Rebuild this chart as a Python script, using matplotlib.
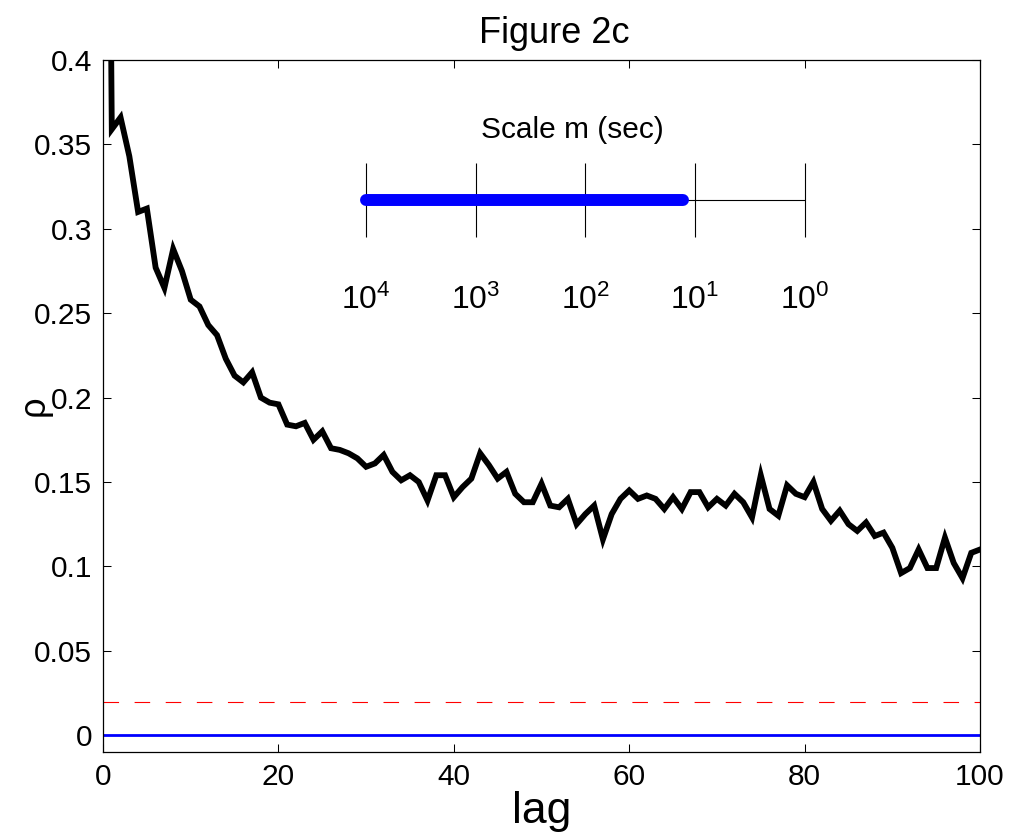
import numpy as np
import matplotlib.pyplot as plt

plt.rcParams['font.family'] = ['Liberation Sans', 'DejaVu Sans']
plt.rcParams['mathtext.fontset'] = 'custom'
plt.rcParams['mathtext.rm'] = 'Liberation Sans'
plt.rcParams['mathtext.it'] = 'Liberation Sans:italic'

# autocorrelacion vs lag
lags = np.arange(0, 101)
rho = [1.0, 0.359, 0.366, 0.343, 0.310, 0.312, 0.277, 0.265, 0.288, 0.275,
       0.258, 0.254, 0.243, 0.237, 0.223, 0.213, 0.209, 0.215, 0.200, 0.197,
       0.196, 0.184, 0.183, 0.185, 0.175, 0.180, 0.170, 0.169, 0.167, 0.164,
       0.159, 0.161, 0.166, 0.156, 0.151, 0.154, 0.150, 0.139, 0.154, 0.154,
       0.141, 0.147, 0.152, 0.167, 0.160, 0.152, 0.156, 0.143, 0.138, 0.138,
       0.149, 0.136, 0.135, 0.140, 0.125, 0.131, 0.136, 0.116, 0.131, 0.140,
       0.145, 0.140, 0.142, 0.140, 0.134, 0.141, 0.134, 0.144, 0.144, 0.135,
       0.140, 0.136, 0.143, 0.138, 0.129, 0.154, 0.134, 0.130, 0.148, 0.143,
       0.141, 0.150, 0.134, 0.127, 0.133, 0.125, 0.121, 0.126, 0.118, 0.120,
       0.111, 0.096, 0.099, 0.110, 0.099, 0.099, 0.117, 0.102, 0.093, 0.108,
       0.110]
umbral = 0.0195  # nivel de significancia

# escala en segundos (inset)
scale_ticks = [1e4, 1e3, 1e2, 1e1, 1e0]
scale_labels = ['$10^{4}$', '$10^{3}$', '$10^{2}$', '$10^{1}$', '$10^{0}$']
scale_range = (1e4, 13.0)

yticks = [0, 0.05, 0.1, 0.15, 0.2, 0.25, 0.3, 0.35, 0.4]
yticklabels = ['0', '0.05', '0.1', '0.15', '0.2', '0.25', '0.3', '0.35', '0.4']
xticks = [0, 20, 40, 60, 80, 100]

fig = plt.figure(figsize=(10.16, 8.34), dpi=100)
ax = fig.add_axes([0.1014, 0.0983, 0.8632, 0.8297])

ax.plot(lags, rho, color='black', lw=4.2, solid_joinstyle='miter')
ax.axhline(0, color='blue', lw=2.0)
ax.axhline(umbral, color='red', lw=0.8, linestyle=(0, (14, 14)))

ax.set_xlim(0, 100)
ax.set_ylim(-0.01, 0.4)
ax.set_xticks(xticks)
ax.set_yticks(yticks)
ax.set_yticklabels(yticklabels)
ax.tick_params(direction='in', length=6, width=0.75, labelsize=21.5,
               top=True, right=True, pad=8)
for s in ax.spines.values():
    s.set_linewidth(0.9)

ax.set_title('Figure 2c', fontsize=26, pad=12, x=0.515)
ax.set_xlabel('lag', fontsize=32, labelpad=0)
ax.set_ylabel('ρ', fontsize=26, va='center')
ax.yaxis.set_label_coords(-0.078, 0.5)

# inset con la escala m
ax_in = ax.inset_axes([30, 0.2954, 50, 0.0436], transform=ax.transData)
ax_in.set_xscale('log')
ax_in.set_xlim(1e4, 1e0)
ax_in.set_ylim(0, 1)
ax_in.axis('off')
ax_in.hlines(0.5, scale_ticks[0], scale_ticks[-1], color='black', lw=0.8,
             clip_on=False)
ax_in.vlines(scale_ticks, 0, 1, color='black', lw=0.8, clip_on=False)
ax_in.plot(scale_range, [0.5, 0.5], color='blue', lw=8.6,
           solid_capstyle='round', clip_on=False)
for t, lab in zip(scale_ticks, scale_labels):
    ax_in.text(t, -0.86, lab, ha='center', va='center', fontsize=23)
ax_in.text(0.47, 1.45, 'Scale m (sec)', transform=ax_in.transAxes,
           ha='center', va='center', fontsize=21.5)

fig.savefig('out.png', dpi=100)
